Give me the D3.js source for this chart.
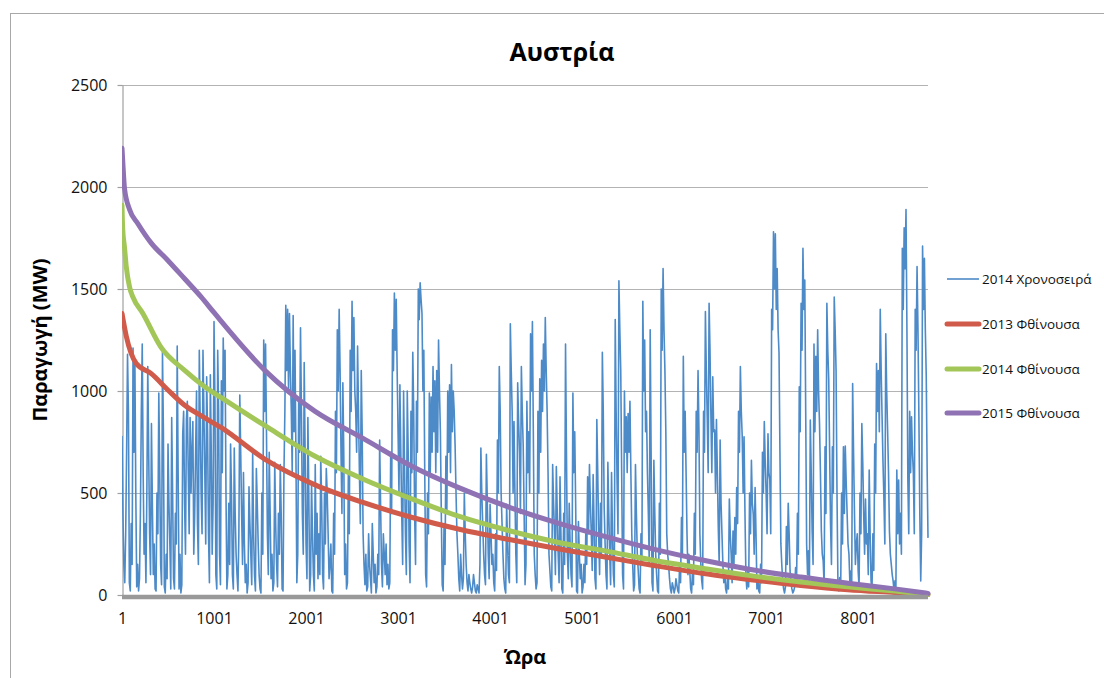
<!DOCTYPE html>
<html>
<head>
<meta charset="utf-8">
<script src="https://cdn.jsdelivr.net/npm/d3@7"></script>
<style>
  html, body { margin: 0; padding: 0; background: #ffffff; }
  svg { display: block; font-family: "Open Sans", "Noto Sans", sans-serif; }
</style>
</head>
<body>
<svg id="chart" width="1104" height="678"></svg>
<script>
// ---- data -------------------------------------------------------------
const HOURS = 8760;          // hours in the year
const STEP = 10;             // hour spacing of the time-series samples

const yTicks = [0, 500, 1000, 1500, 2000, 2500];
const xTickLabels = ["1", "1001", "2001", "3001", "4001", "5001", "6001", "7001", "8001"];
const seriesNames = ["2014 Χρονοσειρά", "2013 Φθίνουσα", "2014 Φθίνουσα", "2015 Φθίνουσα"];

// 2014 production (MW), one sample every STEP hours, grouped in ~1000-hour blocks
const ts2014_h0001 = [780,400,150,60,300,700,1180,900,60,20,350,150,1210,700,1150,500,40,150,20,80,400,900,1230,600,200,350,60,500,1120,700,300,100,840,450,100,250,30,20,500,300,990,600,150,50,1190,800,40,10,200,80,740,450,250,30,870,500,80,30,400,250,1220,600,30,200,10,50,790,900,450,200,860,950,600,300,870,500,710,850,200,400,700,1000,350,150,1200,850,500,300,1200,900,600,250,1070,800,300,60,1080,700,200,450,1340,950,100,30,1200,900,200,50,1050,600];
const ts2014_h1101 = [1260,1000,1200,500,30,100,450,150,740,500,100,30,720,400,200,100,20,300,980,700,400,150,600,250,60,150,10,60,530,350,200,50,700,300,100,20,620,450,250,100,30,10,500,200,1250,900,1230,800,300,100,700,400,80,200,20,60,650,350,150,40,400,200,640,400,30,20,600,900,1420,1100,1400,1000,1380,1100,900,600,1370,800,1200,700,60,200,950,700,1310,900,400,200,1140,700,250,80,870,500,20,100,550,300,100,20,640,200,400,80];
const ts2014_h2141 = [300,100,680,450,100,30,500,250,620,500,300,80,150,250,20,10,400,200,900,600,1300,1000,1400,1100,700,400,1040,700,100,250,30,60,600,300,1200,900,1440,1100,1360,1000,900,700,1220,900,600,350,1100,800,300,150,50,200,20,40,300,150,80,10,350,200,60,150,10,40,200,100,760,450,150,40,300,200,100,250,50,150,30,60,700,400,1300,1100,1480,1200,1450,1100,800,500,1030,700,400,150,1000,650,300,100,1000,700,250,60,900,600,1190,900,400,150,950,700];
const ts2014_h3221 = [1500,1350,1530,1450,1380,1000,1200,600,100,40,500,300,990,600,970,700,1120,800,1050,600,1100,700,1250,1000,800,400,50,20,350,150,680,400,1000,700,1030,600,1130,800,1000,900,730,500,300,200,80,20,200,100,30,80,500,300,150,60,20,100,60,30,10,40,100,60,20,10,50,30,10,150,720,500,350,200,100,50,690,450,200,80,445,300,150,200,60,20,300,120,760,500,1120,900,500,350,200,80,30,10,445,250,100,60,1330,1100,900,500];
const ts2014_h4261 = [850,500,200,60,1040,850,700,400,1120,900,730,400,50,150,950,600,800,500,1280,1000,1340,800,200,100,30,60,900,500,1060,700,1150,900,1230,1000,1360,1100,900,600,200,120,40,20,640,450,300,100,630,400,200,60,580,300,30,10,400,150,1230,700,200,80,450,250,100,40,990,600,800,450,20,10,360,200,80,150,10,40,150,60,300,150,580,300,640,450,300,120,590,350,80,30,860,600,300,100,450,200,1190,900,430,250,100,30,650,400,200,50];
const ts2014_h5321 = [600,300,100,40,1350,900,560,300,1540,1300,1100,600,100,30,1000,700,874,600,890,700,950,600,300,150,20,50,640,400,200,120,30,10,300,150,1440,1000,1250,800,900,600,400,150,1300,700,60,20,660,400,200,100,20,10,450,200,1500,1200,1600,1300,1100,800,300,200,150,80,30,10,60,40,10,30,80,50,20,10,150,60,380,200,1170,700,900,600,300,100,200,120,30,10,120,50,400,200,900,700,1100,800,300,150,70,30,900,700,1390,1100,870,600];
const ts2014_h6381 = [1430,1200,874,600,1070,800,809,500,860,600,330,150,760,450,300,150,60,120,30,10,80,30,470,300,200,60,314,150,380,200,527,350,900,700,1120,900,780,500,776,400,100,30,118,40,500,300,660,450,396,200,527,300,30,80,20,10,150,60,700,500,850,650,500,300,790,600,564,300,1400,1300,1780,1500,1770,1400,1600,1300,1186,700,253,150,69,30,10,40,336,150,450,300,118,60,30,10,20,40,134,50,400,200,1020,800,1430,1200,1700,1400,1544,900];
const ts2014_h7441 = [250,100,217,40,858,600,314,150,1230,800,1170,900,1300,1000,841,600,314,200,167,50,727,400,1430,1200,1060,700,347,150,727,500,1460,1300,1100,500,69,20,85,30,500,250,727,400,730,550,400,250,200,60,118,40,1037,700,400,150,250,300,118,40,500,300,840,650,400,200,470,250,300,100,613,300,69,20,300,120,740,500,1135,900,1100,800,1400,1100,874,650,470,250,1280,1000,809,600,314,200,150,100,69,20,69,30,613,300,564,250,400,200,1700,1400,1800,1600,1890,1300,564,300,900,600,874,700,600,300,1400,1200,1610,1300,874,400,69,300,1710,1400,1650,1300,1070,600,280];

// Load-duration curves (MW at the given rank hour)
const durHours2013 = [1, 47, 156, 319, 500, 682, 863, 1081, 1556, 2100, 2612, 3156, 3667, 4211, 4722, 5267, 5778, 6322, 6833, 7378, 7889, 8400, 8760];
const dur2013      = [1380, 1270, 1135, 1085, 1005, 930, 878, 820, 665, 540, 455, 380, 322, 272, 228, 185, 145, 105, 75, 47, 26, 12, 2];

const durHours2014 = [1, 8, 29, 47, 83, 120, 228, 424, 685, 903, 1088, 1556, 2100, 2612, 3156, 3667, 4211, 4722, 5267, 5778, 6322, 6833, 7378, 7889, 8400, 8760];
const dur2014      = [1910, 1800, 1700, 1610, 1510, 1460, 1380, 1215, 1100, 1020, 965, 830, 680, 570, 470, 385, 315, 260, 215, 170, 130, 95, 64, 40, 19, 2];

const durHours2015 = [1, 10, 29, 83, 174, 319, 500, 682, 863, 1000, 1556, 2100, 2612, 3156, 3667, 4211, 4722, 5267, 5778, 6322, 6833, 7378, 7889, 8400, 8760];
const dur2015      = [2190, 2120, 1990, 1890, 1820, 1725, 1640, 1550, 1460, 1385, 1100, 900, 770, 630, 525, 430, 355, 285, 225, 170, 125, 88, 58, 30, 8];

// ---- drawing ----------------------------------------------------------
const svg = d3.select("#chart");
const plot = { left: 122, right: 928, top: 85, bottom: 595 };
const colors = ["#4d8ac8", "#d05b4b", "#a3c659", "#8f72b4"];

const x = d3.scaleLinear().domain([1, HOURS]).range([plot.left, plot.right]);
const y = d3.scaleLinear().domain([0, 2500]).range([plot.bottom, plot.top]);

// chart frame
svg.append("rect")
  .attr("x", 10.5).attr("y", 13.5)
  .attr("width", 1200).attr("height", 1000)
  .attr("fill", "none").attr("stroke", "#a8a8a8").attr("stroke-width", 1);

// horizontal grid
svg.append("g").selectAll("line").data(yTicks).join("line")
  .attr("x1", plot.left).attr("x2", plot.right)
  .attr("y1", d => Math.round(y(d)) + 0.5).attr("y2", d => Math.round(y(d)) + 0.5)
  .attr("stroke", "#b3b3b3").attr("stroke-width", 1.2);

// y axis
const yAxis = svg.append("g")
  .attr("transform", `translate(${plot.left + 0.5},0)`)
  .call(d3.axisLeft(y).tickValues(yTicks).tickFormat(d3.format("d"))
    .tickSize(5).tickSizeOuter(0).tickPadding(10));
yAxis.select(".domain").attr("stroke", "#a0a0a0").attr("stroke-width", 1.2);
yAxis.selectAll(".tick line").attr("stroke", "#a0a0a0").attr("stroke-width", 1.2);
yAxis.selectAll(".tick text").attr("font-size", 16).attr("fill", "#111")
  .attr("font-family", "'Open Sans', sans-serif");

// time series
const tsValues = [].concat(ts2014_h0001, ts2014_h1101, ts2014_h2141, ts2014_h3221,
                           ts2014_h4261, ts2014_h5321, ts2014_h6381, ts2014_h7441);
const tsPoints = tsValues.map((v, i) => ({ hour: Math.min(1 + i * STEP, HOURS), value: v }));

svg.append("defs").append("clipPath").attr("id", "plotClip")
  .append("rect").attr("x", plot.left).attr("y", plot.top - 10)
  .attr("width", plot.right - plot.left + 6).attr("height", plot.bottom - plot.top + 14);

const plotG = svg.append("g").attr("clip-path", "url(#plotClip)");

const tsLine = d3.line().x(d => x(d.hour)).y(d => y(d.value));
plotG.append("path").datum(tsPoints)
  .attr("d", tsLine)
  .attr("fill", "none").attr("stroke", colors[0]).attr("stroke-width", 1.6)
  .attr("stroke-linejoin", "round");

// x axis band
svg.append("line")
  .attr("x1", plot.left).attr("x2", plot.right)
  .attr("y1", plot.bottom + 2).attr("y2", plot.bottom + 2)
  .attr("stroke", "#999999").attr("stroke-width", 4.5);

// duration curves
const durCurve = d3.line().x(d => x(d[0])).y(d => y(d[1])).curve(d3.curveMonotoneX);
const durations = [
  { hours: durHours2013, values: dur2013, color: colors[1] },
  { hours: durHours2014, values: dur2014, color: colors[2] },
  { hours: durHours2015, values: dur2015, color: colors[3] }
];
durations.forEach(s => {
  plotG.append("path").datum(s.hours.map((h, i) => [h, s.values[i]]))
    .attr("d", durCurve)
    .attr("fill", "none").attr("stroke", s.color).attr("stroke-width", 5)
    .attr("stroke-linejoin", "round").attr("stroke-linecap", "round");
});

// x axis labels
const xAxis = svg.append("g")
  .attr("transform", `translate(0,${plot.bottom + 4})`)
  .call(d3.axisBottom(x).tickValues(xTickLabels.map(Number)).tickFormat((d, i) => xTickLabels[i])
    .tickSize(0).tickPadding(14));
xAxis.select(".domain").remove();
xAxis.selectAll(".tick text").attr("font-size", 16).attr("fill", "#111")
  .attr("font-family", "'Open Sans', sans-serif");

// titles
svg.append("text").attr("x", 562).attr("y", 61).attr("text-anchor", "middle")
  .attr("font-size", 25).attr("font-weight", "bold").attr("fill", "#000").text("Αυστρία");
svg.append("text").attr("x", 525).attr("y", 664).attr("text-anchor", "middle")
  .attr("font-size", 20).attr("font-weight", "bold").attr("fill", "#000").text("Ώρα");
svg.append("text").attr("transform", "translate(47,340) rotate(-90)").attr("text-anchor", "middle")
  .attr("font-size", 20).attr("font-weight", "bold").attr("fill", "#000").text("Παραγωγή (MW)");

// legend
const legendY = [279, 324, 369, 413];
const legend = svg.append("g");
seriesNames.forEach((name, i) => {
  legend.append("line")
    .attr("x1", 947).attr("x2", 979).attr("y1", legendY[i]).attr("y2", legendY[i])
    .attr("stroke", colors[i]).attr("stroke-width", i === 0 ? 1.6 : 5)
    .attr("stroke-linecap", i === 0 ? "butt" : "round");
  legend.append("text").attr("x", 982).attr("y", legendY[i]).attr("dy", "0.35em")
    .attr("font-size", 13.5).attr("fill", "#111").text(name);
});
</script>
</body>
</html>
